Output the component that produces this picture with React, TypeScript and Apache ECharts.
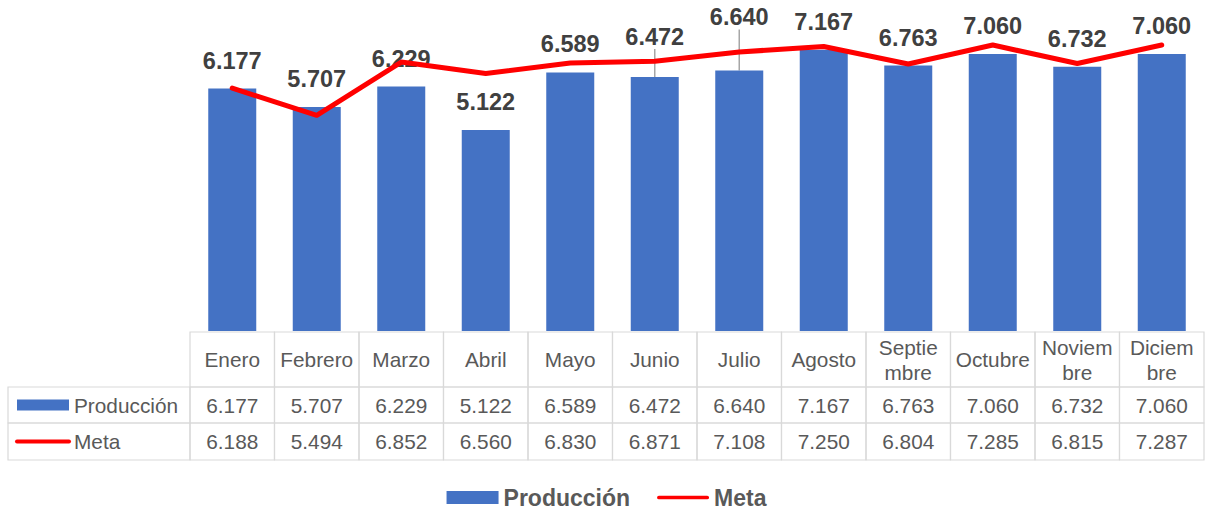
import React, { useEffect, useRef } from 'react';
import * as echarts from 'echarts';

const months = ['Enero', 'Febrero', 'Marzo', 'Abril', 'Mayo', 'Junio', 'Julio', 'Agosto', 'Septiembre', 'Octubre', 'Noviembre', 'Diciembre'];
const monthHeaders = ['Enero', 'Febrero', 'Marzo', 'Abril', 'Mayo', 'Junio', 'Julio', 'Agosto', 'Septie\nmbre', 'Octubre', 'Noviem\nbre', 'Diciem\nbre'];
const produccion = [6.177, 5.707, 6.229, 5.122, 6.589, 6.472, 6.640, 7.167, 6.763, 7.060, 6.732, 7.060];
const meta = [6.188, 5.494, 6.852, 6.560, 6.830, 6.871, 7.108, 7.250, 6.804, 7.285, 6.815, 7.287];
const seriesNames = ['Producción', 'Meta'];

// layout constants
const FONT = '"Liberation Sans", Arial, Helvetica, sans-serif';
const BLUE = '#4472c4';
const RED = '#ff0000';
const TEXT = '#595959';
const BORDER = '#d9d9d9';
const ROW_EDGES = [0, 55, 91, 128];
const TABLE_LEFT = 8;
const movedLabels: Record<number, number> = { 5: -12, 6: -25 };

const fmt = (v: number) => v.toFixed(3);

export default function App() {
  const ref = useRef<HTMLDivElement>(null);
  useEffect(() => {
    if (!ref.current) return;
    const chart = echarts.init(ref.current, undefined, { renderer: 'svg' });

    const renderItem = (params: any, api: any) => {
      const i = api.value(0);
      const cx = api.coord([i, 0])[0];
      const w = api.size([1, 0])[0];
      const x0 = cx - w / 2;
      const ys = ROW_EDGES.map((v) => api.coord([i, v])[1]);
      const border = { fill: 'none', stroke: BORDER, lineWidth: 1.2 };
      const txt = (text: string, x: number, y: number, align = 'center') => ({
        type: 'text',
        style: {
          text, x, y, align, verticalAlign: 'middle',
          fill: TEXT, fontSize: 20.8, fontFamily: FONT, lineHeight: 25,
        },
      });
      const children: any[] = [];
      for (let r = 0; r < 3; r++) {
        children.push({ type: 'rect', shape: { x: x0, y: ys[r], width: w, height: ys[r + 1] - ys[r] }, style: border });
      }
      children.push(txt(monthHeaders[i], cx, (ys[0] + ys[1]) / 2));
      children.push(txt(fmt(produccion[i]), cx, (ys[1] + ys[2]) / 2));
      children.push(txt(fmt(meta[i]), cx, (ys[2] + ys[3]) / 2));
      if (i === 0) {
        const lw = x0 - TABLE_LEFT;
        const y1c = (ys[1] + ys[2]) / 2;
        const y2c = (ys[2] + ys[3]) / 2;
        children.push({ type: 'rect', shape: { x: TABLE_LEFT, y: ys[1], width: lw, height: ys[2] - ys[1] }, style: border });
        children.push({ type: 'rect', shape: { x: TABLE_LEFT, y: ys[2], width: lw, height: ys[3] - ys[2] }, style: border });
        children.push({ type: 'rect', shape: { x: TABLE_LEFT + 9, y: y1c - 5.5, width: 52, height: 11 }, style: { fill: BLUE } });
        children.push({ type: 'line', shape: { x1: TABLE_LEFT + 9, y1: y2c, x2: TABLE_LEFT + 61, y2: y2c }, style: { stroke: RED, lineWidth: 4, lineCap: 'round' } });
        children.push(txt(seriesNames[0], TABLE_LEFT + 66, y1c, 'left'));
        children.push(txt(seriesNames[1], TABLE_LEFT + 66, y2c, 'left'));
      }
      return { type: 'group', children };
    };

    chart.setOption({
      animation: false,
      backgroundColor: '#ffffff',
      grid: [
        { left: 190, right: 9, top: 17, height: 314 },
        { left: 190, right: 9, top: 332, height: 128 },
      ],
      xAxis: [
        { type: 'category', data: months, gridIndex: 0, show: false },
        { type: 'category', data: months, gridIndex: 1, show: false },
      ],
      yAxis: [
        { type: 'value', min: 0, max: 8, gridIndex: 0, show: false },
        { type: 'value', min: 0, max: 128, inverse: true, gridIndex: 1, show: false },
      ],
      legend: {
        top: 486,
        left: 'center',
        padding: 0,
        itemWidth: 52,
        itemHeight: 13,
        itemGap: 27,
        selectedMode: false,
        textStyle: { fontSize: 23, fontWeight: 'bold', color: TEXT, fontFamily: FONT },
        data: [
          { name: seriesNames[0], icon: 'rect', itemStyle: { color: BLUE } },
          { name: seriesNames[1], icon: 'path://M2,0H54A2,2 0 0 1 54,4H2A2,2 0 0 1 2,0Z', itemStyle: { color: RED, borderWidth: 0 } },
        ],
      },
      series: [
        {
          name: seriesNames[0],
          type: 'bar',
          xAxisIndex: 0,
          yAxisIndex: 0,
          barWidth: 48,
          z: 2,
          itemStyle: { color: BLUE },
          data: produccion.map((v, i) =>
            movedLabels[i] !== undefined
              ? { value: v, labelLine: { show: true, lineStyle: { color: '#a6a6a6', width: 1.5 } } }
              : v
          ),
          label: {
            show: true,
            position: 'top',
            distance: 16,
            formatter: (p: any) => fmt(p.value),
            fontSize: 23.5,
            fontWeight: 'bold',
            color: '#404040',
            fontFamily: FONT,
          },
          labelLayout: (p: any) => (movedLabels[p.dataIndex] !== undefined ? { dy: movedLabels[p.dataIndex] } : {}),
        },
        {
          name: seriesNames[1],
          type: 'line',
          xAxisIndex: 0,
          yAxisIndex: 0,
          z: 3,
          data: meta,
          symbol: 'none',
          color: RED,
          itemStyle: { color: RED },
          lineStyle: { color: RED, width: 5, cap: 'round', join: 'round' },
        },
        {
          type: 'custom',
          xAxisIndex: 1,
          yAxisIndex: 1,
          silent: true,
          data: months.map((_, i) => [i, 0]),
          renderItem,
        },
      ],
    });
    return () => chart.dispose();
  }, []);
  return <div ref={ref} style={{ position: 'fixed', left: 0, top: 0, width: 1213, height: 510, background: '#fff' }} />;
}
